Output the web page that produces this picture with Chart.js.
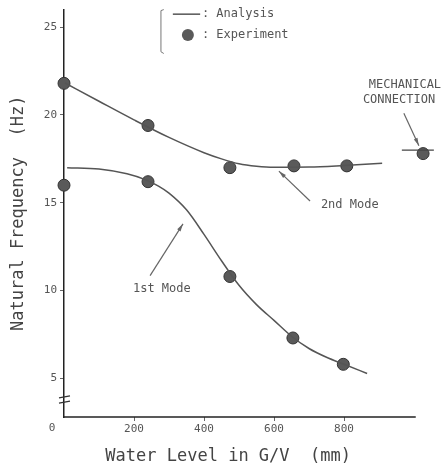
<!DOCTYPE html>
<html>
<head>
<meta charset="utf-8">
<script src="https://cdn.jsdelivr.net/npm/chart.js@4.4.0/dist/chart.umd.min.js"></script>
<style>
	html, body { margin: 0; padding: 0; background: #fff; }
</style>
</head>
<body>
<canvas id="chart" width="445" height="472"></canvas>
<script>
// analysis curves (water level mm -> Hz)
const analysis1X = [9, 100, 180, 230, 270, 300, 350, 400, 450, 500, 550, 600, 650, 700, 750, 800, 866];
const analysis1Y = [17.0, 16.92, 16.65, 16.33, 15.95, 15.55, 14.6, 13.2, 11.7, 10.3, 9.2, 8.3, 7.4, 6.7, 6.2, 5.8, 5.28];
const analysis2X = [3, 100, 200, 300, 400, 450, 500, 550, 600, 700, 800, 909];
const analysis2Y = [21.82, 20.78, 19.72, 18.72, 17.85, 17.5, 17.22, 17.08, 17.02, 17.03, 17.12, 17.25];

// experiment points
const exp1X = [0, 240, 474, 654, 798];
const exp1Y = [16.0, 16.2, 10.8, 7.3, 5.8];
const exp2X = [0, 240, 474, 657, 808];
const exp2Y = [21.8, 19.4, 17.0, 17.1, 17.1];

// mechanical connection
const mechX = [1026];
const mechY = [17.8];
const mechLineX = [1011];
const mechLineY = [18.0];

const xTicks = [200, 400, 600, 800];
const yTicks = [5, 10, 15, 20, 25];
const xAxisEnd = 1005;

const FONT = "'DejaVu Sans Mono', monospace";
const INK = '#555';

function pts(xs, ys) {
	return xs.map((x, i) => ({ x: x, y: ys[i] }));
}

// axis line, annotations and legend, placed in data units
const overlay = {
	id: 'overlay',
	afterDraw(chart) {
		const ctx = chart.ctx;
		const sx = chart.scales.x, sy = chart.scales.y;
		const px = v => sx.getPixelForValue(v);
		const py = v => sy.getPixelForValue(v);

		ctx.save();

		// x axis line
		ctx.strokeStyle = '#222';
		ctx.lineWidth = 1.5;
		ctx.beginPath();
		ctx.moveTo(px(0) - 1, py(sy.min));
		ctx.lineTo(px(xAxisEnd), py(sy.min));
		ctx.stroke();

		// axis break marks
		ctx.strokeStyle = '#333';
		ctx.lineWidth = 1.2;
		[3.95, 3.65].forEach(v => {
			ctx.beginPath();
			ctx.moveTo(px(0) - 5, py(v) + 1);
			ctx.lineTo(px(0) + 6, py(v) - 1);
			ctx.stroke();
		});

		// origin label
		ctx.fillStyle = INK;
		ctx.font = '11px ' + FONT;
		ctx.textAlign = 'center';
		ctx.textBaseline = 'middle';
		ctx.fillText('0', px(0) - 12, py(sy.min) + 11);

		// x title
		ctx.fillStyle = '#444';
		ctx.font = '17px ' + FONT;
		ctx.fillText('Water Level in G/V  (mm)', px(469), py(sy.min) + 40);

		// legend
		ctx.strokeStyle = '#777';
		ctx.lineWidth = 1;
		ctx.beginPath();
		ctx.moveTo(px(285), py(26.0));
		ctx.lineTo(px(277), py(26.0) + 1);
		ctx.lineTo(px(277), py(23.6));
		ctx.lineTo(px(285), py(23.5));
		ctx.stroke();
		ctx.strokeStyle = INK;
		ctx.lineWidth = 1.5;
		ctx.beginPath();
		ctx.moveTo(px(311), py(25.74));
		ctx.lineTo(px(389), py(25.74));
		ctx.stroke();
		ctx.beginPath();
		ctx.fillStyle = '#5a5a5a';
		ctx.arc(px(354), py(24.55), 6, 0, Math.PI * 2);
		ctx.fill();
		ctx.fillStyle = INK;
		ctx.font = '12px ' + FONT;
		ctx.textAlign = 'left';
		ctx.fillText(': Analysis', px(394), py(25.74));
		ctx.fillText(': Experiment', px(394), py(24.55));

		// mode labels
		ctx.fillText('2nd Mode', px(734), py(14.9));
		ctx.fillText('1st Mode', px(197), py(10.1));
		ctx.fillText('MECHANICAL', px(871), py(21.7));
		ctx.fillText('CONNECTION', px(854), py(20.85));

		// arrows
		const arrow = (x1, y1, x2, y2) => {
			const a = px(x1), b = py(y1), c = px(x2), d = py(y2);
			const ang = Math.atan2(d - b, c - a);
			ctx.strokeStyle = '#666';
			ctx.fillStyle = '#666';
			ctx.lineWidth = 1.2;
			ctx.beginPath();
			ctx.moveTo(a, b);
			ctx.lineTo(c, d);
			ctx.stroke();
			ctx.beginPath();
			ctx.moveTo(c, d);
			ctx.lineTo(c - 8 * Math.cos(ang - 0.25), d - 8 * Math.sin(ang - 0.25));
			ctx.lineTo(c - 8 * Math.cos(ang + 0.25), d - 8 * Math.sin(ang + 0.25));
			ctx.closePath();
			ctx.fill();
		};
		arrow(703, 15.1, 614, 16.8);
		arrow(246, 10.85, 340, 13.8);
		arrow(971, 20.1, 1014, 18.25);

		ctx.restore();
	}
};

const ctx = document.getElementById('chart').getContext('2d');

new Chart(ctx, {
	type: 'line',
	data: {
		datasets: [
			{
				data: pts(analysis2X, analysis2Y),
				borderColor: INK, borderWidth: 1.5,
				pointRadius: 0, cubicInterpolationMode: 'monotone'
			},
			{
				data: pts(analysis1X, analysis1Y),
				borderColor: INK, borderWidth: 1.5,
				pointRadius: 0, cubicInterpolationMode: 'monotone'
			},
			{
				data: pts(mechLineX, mechLineY),
				showLine: false,
				pointStyle: 'line', pointRadius: 16,
				borderColor: '#444', borderWidth: 1.2
			},
			{
				data: pts(exp2X, exp2Y),
				showLine: false,
				pointRadius: 6, backgroundColor: '#5a5a5a', borderColor: '#333', borderWidth: 1
			},
			{
				data: pts(exp1X, exp1Y),
				showLine: false,
				pointRadius: 6, backgroundColor: '#5a5a5a', borderColor: '#333', borderWidth: 1
			},
			{
				data: pts(mechX, mechY),
				showLine: false,
				pointRadius: 6, backgroundColor: '#5a5a5a', borderColor: '#333', borderWidth: 1
			}
		]
	},
	options: {
		responsive: false,
		animation: false,
		clip: false,
		layout: { autoPadding: false, padding: { top: 8, right: 3, left: 0, bottom: 0 } },
		plugins: {
			legend: { display: false },
			tooltip: { enabled: false }
		},
		scales: {
			x: {
				type: 'linear',
				min: 0,
				max: 1080,
				afterFit: s => { s.height = 55; },
				afterBuildTicks: s => { s.ticks = xTicks.map(v => ({ value: v })); },
				border: { display: false },
				grid: { drawOnChartArea: false, tickLength: 4, color: '#666' },
				ticks: { font: { family: FONT, size: 11 }, color: INK, padding: 2, maxRotation: 0 }
			},
			y: {
				type: 'linear',
				min: 2.8,
				max: 26,
				afterFit: s => { s.width = 64; },
				afterBuildTicks: s => { s.ticks = yTicks.map(v => ({ value: v })); },
				border: { color: '#222', width: 1.5 },
				grid: { drawOnChartArea: false, tickLength: 4, color: '#666' },
				ticks: { font: { family: FONT, size: 11 }, color: INK, padding: 3 },
				title: {
					display: true,
					text: 'Natural Frequency  (Hz)',
					font: { family: FONT, size: 17 },
					color: '#444',
					padding: { top: 8, bottom: 0 }
				}
			}
		}
	},
	plugins: [overlay]
});
</script>
</body>
</html>
